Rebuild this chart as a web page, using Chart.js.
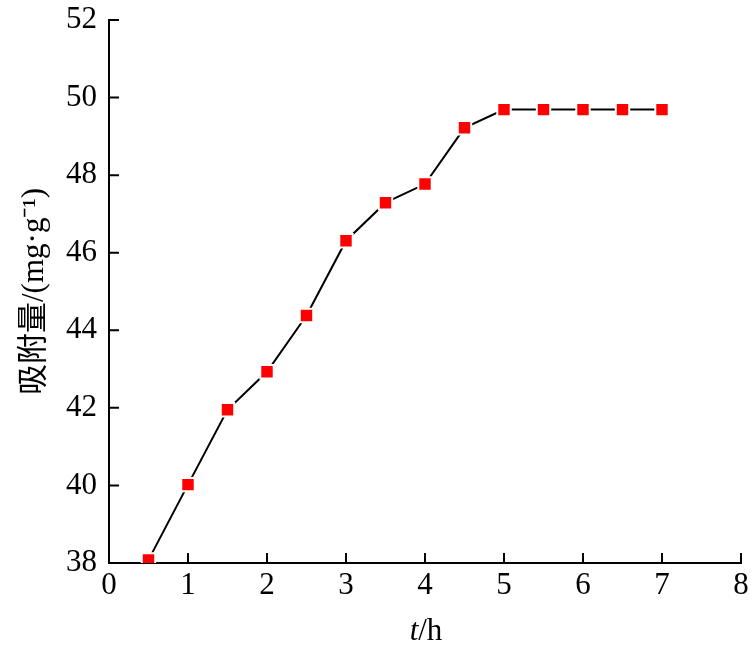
<!DOCTYPE html>
<html>
<head>
<meta charset="utf-8">
<script src="https://cdn.jsdelivr.net/npm/chart.js@4.4.0/dist/chart.umd.min.js"></script>
<style>
  html, body { margin: 0; padding: 0; background: #fff; }
  #wrap { width: 756px; height: 650px; }
</style>
</head>
<body>
<div id="wrap"><canvas id="adsChart" width="756" height="650"></canvas></div>
<script>
// adsorption time (h) and adsorption amount (mg/g)
const times = [0.5, 1, 1.5, 2, 2.5, 3, 3.5, 4, 4.5, 5, 5.5, 6, 6.5, 7];
const amounts = [38.08, 40.02, 41.95, 42.93, 44.38, 46.31, 47.29, 47.77, 49.22, 49.69, 49.69, 49.69, 49.69, 49.69];
const xTicks = [0, 1, 2, 3, 4, 5, 6, 7, 8];
const yTicks = [38, 40, 42, 44, 46, 48, 50, 52];

const serif = "'Liberation Serif', 'Times New Roman', serif";

// inward tick marks + x title with italic t
const axisExtras = {
    id: 'axisExtras',
    afterDraw(chart) {
        const c = chart.ctx, x = chart.scales.x, y = chart.scales.y;
        c.save();
        c.strokeStyle = '#000';
        c.lineWidth = 2;
        c.beginPath();
        xTicks.forEach(v => {
            const px = x.getPixelForValue(v);
            c.moveTo(px, y.bottom); c.lineTo(px, y.bottom - 10);
        });
        yTicks.forEach(v => {
            const py = y.getPixelForValue(v);
            c.moveTo(x.left, py); c.lineTo(x.left + 10, py);
        });
        c.stroke();
        // x axis title "t/h"
        const cx = 426, cy = 632;
        c.fillStyle = '#000';
        c.textBaseline = 'middle';
        c.font = 'italic 31px ' + serif;
        const wt = c.measureText('t').width;
        c.font = '31px ' + serif;
        const wr = c.measureText('/h').width;
        const start = cx - (wt + wr) / 2;
        c.textAlign = 'left';
        c.font = 'italic 31px ' + serif;
        c.fillText('t', start, cy);
        c.font = '31px ' + serif;
        c.fillText('/h', start + wt, cy);
        c.restore();
    }
};

new Chart(document.getElementById('adsChart').getContext('2d'), {
    type: 'line',
    data: {
        datasets: [{
            data: times.map((t, i) => ({ x: t, y: amounts[i] })),
            borderColor: '#000',
            borderWidth: 2,
            pointStyle: 'rect',
            pointRadius: 9.5,
            pointBackgroundColor: '#ff0000',
            pointBorderColor: '#fff',
            pointBorderWidth: 2,
            tension: 0
        }]
    },
    options: {
        responsive: false,
        animation: false,
        layout: { padding: { top: 20, right: 15, bottom: 0, left: 0 } },
        plugins: { legend: { display: false }, tooltip: { enabled: false } },
        scales: {
            x: {
                type: 'linear', min: 0, max: 8,
                afterBuildTicks: s => { s.ticks = xTicks.map(v => ({ value: v })); },
                afterFit: s => { s.height = 87; s.paddingLeft = 0; s.paddingRight = 0; },
                grid: { display: false, drawTicks: false },
                border: { display: true, color: '#000', width: 2 },
                ticks: { color: '#000', padding: 4, font: { family: serif, size: 31 } }
            },
            y: {
                min: 38, max: 52,
                afterBuildTicks: s => { s.ticks = yTicks.map(v => ({ value: v })); },
                afterFit: s => { s.width = 109; s.paddingTop = 0; s.paddingBottom = 0; },
                grid: { display: false, drawTicks: false },
                border: { display: true, color: '#000', width: 2 },
                ticks: { color: '#000', padding: 12, font: { family: serif, size: 31 } },
                title: {
                    display: true,
                    text: '吸附量/(mg·g⁻¹)',
                    color: '#000',
                    padding: { top: 16, bottom: 0 },
                    font: { family: "'Liberation Serif', 'Noto Sans CJK SC', serif", size: 31 }
                }
            }
        }
    },
    plugins: [axisExtras]
});
</script>
</body>
</html>
